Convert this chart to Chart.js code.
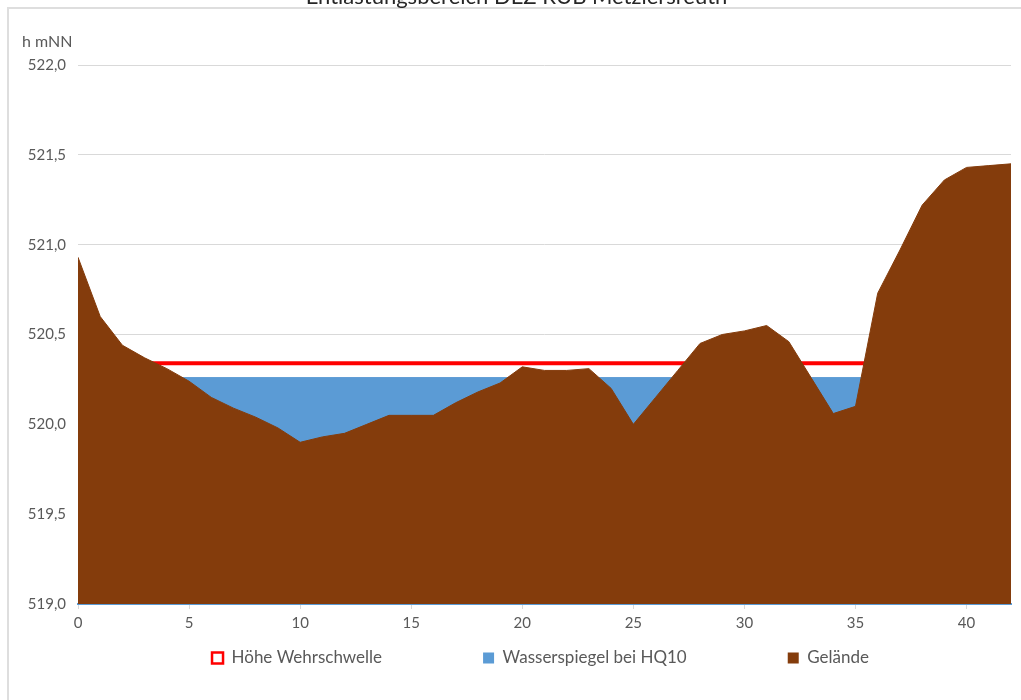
<!DOCTYPE html>
<html><head><meta charset="utf-8">
<script src="https://cdn.jsdelivr.net/npm/chart.js@4"></script>
<style>
html,body{margin:0;padding:0;background:#fff;overflow:hidden;width:1021px;height:700px;}
#frame{position:absolute;left:7px;top:7px;right:0;bottom:0;border-left:2px solid #dedede;border-top:2px solid #dedede;}
#wrap{position:absolute;left:0;top:-16px;width:1021px;height:716px;}
</style></head><body>
<div id="frame"></div>
<div id="wrap"><canvas id="c"></canvas></div>
<script>
const titleText = 'Entlastungsbereich DEZ RÜB Metzlersreuth';
const yUnit = 'h mNN';
const seriesNames = ['Höhe Wehrschwelle', 'Wasserspiegel bei HQ10', 'Gelände'];
const station = [0,1,2,3,4,5,6,7,8,9,10,11,12,13,14,15,16,17,18,19,20,21,22,23,24,25,26,27,28,29,30,31,32,33,34,35,36,37,38,39,40,41,42];
const gelaende = [520.93,520.60,520.44,520.37,520.31,520.24,520.15,520.09,520.04,519.98,519.90,519.93,519.95,520.00,520.05,520.05,520.05,520.12,520.18,520.23,520.32,520.30,520.30,520.31,520.20,520.00,520.15,520.30,520.45,520.50,520.52,520.55,520.46,520.26,520.06,520.10,520.73,520.97,521.22,521.36,521.43,521.44,521.45];
const wehrX = [0, 42];
const wehrY = [520.34, 520.34];
const wasserX = [0, 42];
const wasserY = [520.26, 520.26];
const xTicks = [0,5,10,15,20,25,30,35,40];
const yTicks = [519.0,519.5,520.0,520.5,521.0,521.5,522.0];

const pts = (xs, ys) => xs.map((x, i) => ({x: x, y: ys[i]}));
const FONT = 'Lato, "Open Sans", sans-serif';
const LEG_PAD = 101;

const legendShift = {
  id: 'legendShift',
  afterLayout(chart) {
    const lg = chart.legend;
    if (!lg) return;
    const ih = lg.legendHitBoxes && lg.legendHitBoxes.length ? lg.legendHitBoxes[0].height : 17;
    lg.top = chart.scales.x.bottom + 21 - LEG_PAD - ih / 2;
    lg.left += 24; lg.right += 24;
  }
};

new Chart(document.getElementById('c'), {
  type: 'line',
  data: {
    datasets: [
      { label: seriesNames[0], data: pts(wehrX, wehrY), borderColor: '#FF0000', backgroundColor: '#FFFFFF',
        borderWidth: 4, fill: false, pointRadius: 0, order: 3 },
      { label: seriesNames[1], data: pts(wasserX, wasserY), borderColor: '#5B9BD5', backgroundColor: '#5B9BD5',
        borderWidth: 1, fill: 'start', pointRadius: 0, order: 2 },
      { label: seriesNames[2], data: pts(station, gelaende), borderColor: '#843C0C', backgroundColor: '#843C0C',
        borderWidth: 1, fill: 'start', pointRadius: 0, tension: 0, order: 1 }
    ]
  },
  options: {
    responsive: true, maintainAspectRatio: false, animation: false,
    layout: { padding: { left: 22, right: 10, top: 0, bottom: 23 } },
    plugins: {
      title: { display: true, text: titleText, color: '#262626', font: { family: FONT, size: 22, weight: 'normal' }, padding: { top: 0, bottom: 0 } },
      subtitle: { display: true, text: yUnit, align: 'start', color: '#595959', font: { family: FONT, size: 16 }, padding: { top: 22, bottom: 13.4 } },
      legend: {
        position: 'bottom', maxHeight: 40,
        labels: {
          boxWidth: 11, boxHeight: 11, padding: LEG_PAD, color: '#595959', font: { family: FONT, size: 17 },
          sort: (a, b) => a.datasetIndex - b.datasetIndex,
          generateLabels: (chart) => Chart.defaults.plugins.legend.labels.generateLabels(chart).map(l => {
            l.lineWidth = l.datasetIndex === 0 ? 2.5 : 0;
            return l;
          })
        }
      },
      tooltip: { enabled: false }
    },
    scales: {
      x: {
        type: 'linear', min: 0, max: 42,
        afterBuildTicks: (s) => { s.ticks = xTicks.map(v => ({ value: v })); },
        grid: { drawOnChartArea: false, drawTicks: true, tickLength: 5, color: '#d9d9d9' },
        border: { color: '#5B9BD5', width: 2 },
        ticks: { font: { family: FONT, size: 15 }, color: '#595959', padding: 5, maxRotation: 0, autoSkip: false }
      },
      y: {
        min: 519, max: 522,
        afterBuildTicks: (s) => { s.ticks = yTicks.map(v => ({ value: v })); },
        afterFit: (s) => { s.width = 56; },
        grid: { color: '#d9d9d9', drawTicks: false },
        border: { display: false },
        ticks: { font: { family: FONT, size: 15 }, color: '#595959', padding: 12,
          callback: (v) => Number(v).toFixed(1).replace('.', ',') }
      }
    }
  },
  plugins: [legendShift]
});
</script>
</body></html>
